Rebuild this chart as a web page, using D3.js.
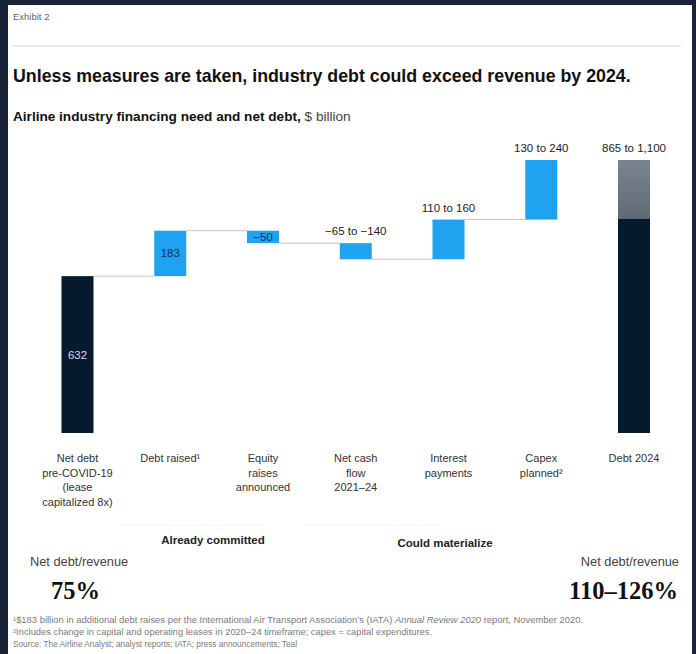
<!DOCTYPE html>
<html>
<head>
<meta charset="utf-8">
<script src="https://cdn.jsdelivr.net/npm/d3@7"></script>
<style>
  html, body { margin: 0; padding: 0; background: #18233a; }
  svg { display: block; }
</style>
</head>
<body>
<svg id="chart" width="696" height="654"></svg>
<script>
// Waterfall of airline net debt, $ billion
const categories = ["Net debt pre-COVID-19", "Debt raised", "Equity raises announced",
  "Net cash flow 2021-24", "Interest payments", "Capex planned", "Debt 2024"];
const categoryLines = [
  ["Net debt", "pre-COVID-19", "(lease", "capitalized 8x)"],
  ["Debt raised¹"],
  ["Equity", "raises", "announced"],
  ["Net cash", "flow", "2021–24"],
  ["Interest", "payments"],
  ["Capex", "planned²"],
  ["Debt 2024"]
];
const barKinds = ["total", "delta", "delta", "delta", "delta", "delta", "total"];
// low and high end of each estimate
const lowValues = [632, 183, -50, -140, 110, 130, 865];
const highValues = [632, 183, -50, -65, 160, 240, 1100];
const valueLabels = ["632", "183", "−50", "−65 to −140", "110 to 160", "130 to 240", "865 to 1,100"];
const yDomain = [0, 1100];

const svg = d3.select("#chart");

// white card
svg.append("rect").attr("x", 8).attr("y", 5).attr("width", 684).attr("height", 650).attr("fill", "#ffffff");

const sans = "'Liberation Sans', Arial, sans-serif";

svg.append("text").attr("x", 13).attr("y", 20).attr("font-family", sans)
  .attr("font-size", 9.5).attr("fill", "#666").text("Exhibit 2");
svg.append("line").attr("x1", 12).attr("x2", 681).attr("y1", 46).attr("y2", 46)
  .attr("stroke", "#dcdcdc").attr("stroke-width", 1.2);

svg.append("text").attr("x", 13).attr("y", 82).attr("font-family", sans)
  .attr("font-size", 17.8).attr("font-weight", 700).attr("fill", "#111")
  .text("Unless measures are taken, industry debt could exceed revenue by 2024.");

const sub = svg.append("text").attr("x", 13).attr("y", 121).attr("font-family", sans)
  .attr("font-size", 13.6).attr("fill", "#111");
sub.append("tspan").attr("font-weight", 700).text("Airline industry financing need and net debt, ");
sub.append("tspan").attr("fill", "#444").text("$ billion");

// scales
const x = d3.scalePoint().domain(categories).range([77.5, 634]);
const y = d3.scaleLinear().domain(yDomain).range([433, 160]);
const barW = 32;

// waterfall running levels (high-debt path)
let level = 0;
const bars = categories.map((c, i) => {
  let from, to;
  if (barKinds[i] === "total") { from = 0; to = highValues[i]; level = to; }
  else { from = level; to = level + highValues[i]; level = to; }
  return { cat: c, i, from, to, low: lowValues[i], high: highValues[i] };
});

// connector lines between consecutive bars
const conn = svg.append("g").attr("stroke", "#c4c4c4").attr("stroke-width", 1);
bars.slice(0, -2).forEach((b, k) => {
  const next = bars[k + 1];
  conn.append("line")
    .attr("x1", x(b.cat) + barW / 2).attr("x2", x(next.cat) - barW / 2)
    .attr("y1", y(b.to)).attr("y2", y(b.to));
});

const navy = "#061a2e", blue = "#1fa3f0";
const defs = svg.append("defs");
const grad = defs.append("linearGradient").attr("id", "rangeFill")
  .attr("x1", 0).attr("x2", 0).attr("y1", 0).attr("y2", 1);
grad.append("stop").attr("offset", "0%").attr("stop-color", "#7b858f");
grad.append("stop").attr("offset", "100%").attr("stop-color", "#5f6a75");

const g = svg.append("g");
bars.forEach(b => {
  const x0 = x(b.cat) - barW / 2;
  if (barKinds[b.i] === "total" && b.i === bars.length - 1) {
    g.append("rect").attr("x", x0).attr("width", barW)
      .attr("y", y(b.low)).attr("height", y(0) - y(b.low)).attr("fill", navy);
    g.append("rect").attr("x", x0).attr("width", barW)
      .attr("y", y(b.high)).attr("height", y(b.low) - y(b.high)).attr("fill", "url(#rangeFill)");
  } else {
    const top = Math.max(b.from, b.to), bot = Math.min(b.from, b.to);
    g.append("rect").attr("x", x0).attr("width", barW)
      .attr("y", y(top)).attr("height", y(bot) - y(top))
      .attr("fill", barKinds[b.i] === "total" ? navy : blue);
  }
});

// value labels
bars.forEach(b => {
  const top = Math.max(b.from, b.to), bot = Math.min(b.from, b.to);
  const t = svg.append("text").attr("x", x(b.cat)).attr("text-anchor", "middle")
    .attr("font-family", sans).attr("font-size", 11.5).text(valueLabels[b.i]);
  if (b.i === 0) t.attr("y", (y(top) + y(bot)) / 2 + 4).attr("fill", "#d6dde6");
  else if (b.i <= 2) t.attr("y", (y(top) + y(bot)) / 2 + 4).attr("fill", "#0d3556");
  else t.attr("y", y(top) - 8).attr("fill", "#222");
});

// category labels
categories.forEach((c, i) => {
  const t = svg.append("text").attr("x", x(c)).attr("y", 462).attr("text-anchor", "middle")
    .attr("font-family", sans).attr("font-size", 11).attr("fill", "#333");
  categoryLines[i].forEach((ln, k) => {
    t.append("tspan").attr("x", x(c)).attr("dy", k === 0 ? 0 : 14.6).text(ln);
  });
});

// group brackets
const grp = svg.append("g").attr("stroke", "#efefef").attr("stroke-width", 1);
grp.append("line").attr("x1", 123).attr("x2", 262).attr("y1", 525).attr("y2", 525);
grp.append("line").attr("x1", 307).attr("x2", 437).attr("y1", 525).attr("y2", 525);
svg.append("text").attr("x", 213).attr("y", 544).attr("text-anchor", "middle")
  .attr("font-family", sans).attr("font-size", 11.5).attr("font-weight", 700).attr("fill", "#222")
  .text("Already committed");
svg.append("text").attr("x", 445).attr("y", 547).attr("text-anchor", "middle")
  .attr("font-family", sans).attr("font-size", 11.5).attr("font-weight", 700).attr("fill", "#222")
  .text("Could materialize");

// ratios
const serif = "'Liberation Serif', 'DejaVu Serif', serif";
svg.append("text").attr("x", 30).attr("y", 566)
  .attr("font-family", sans).attr("font-size", 12.8).attr("fill", "#444").text("Net debt/revenue");
svg.append("text").attr("x", 51).attr("y", 599)
  .attr("font-family", serif).attr("font-size", 24.5).attr("font-weight", 700).attr("fill", "#111")
  .text("75%");
svg.append("text").attr("x", 679).attr("y", 566).attr("text-anchor", "end")
  .attr("font-family", sans).attr("font-size", 12.8).attr("fill", "#444").text("Net debt/revenue");
svg.append("text").attr("x", 678).attr("y", 599).attr("text-anchor", "end")
  .attr("font-family", serif).attr("font-size", 24.5).attr("font-weight", 700).attr("fill", "#111")
  .text("110–126%");

// footnotes
const fn = svg.append("g").attr("font-family", sans).attr("font-size", 8.4).attr("fill", "#7a7a7a");
const f1 = fn.append("text").attr("x", 13).attr("y", 623)
  .attr("textLength", 570).attr("lengthAdjust", "spacingAndGlyphs");
f1.append("tspan").text("¹$183 billion in additional debt raises per the International Air Transport Association’s (IATA) ");
f1.append("tspan").attr("font-style", "italic").text("Annual Review 2020");
f1.append("tspan").text(" report, November 2020.");
fn.append("text").attr("x", 13).attr("y", 635)
  .attr("textLength", 419).attr("lengthAdjust", "spacingAndGlyphs")
  .text("²Includes change in capital and operating leases in 2020–24 timeframe; capex = capital expenditures.");
fn.append("text").attr("x", 13).attr("y", 647)
  .attr("textLength", 284).attr("lengthAdjust", "spacingAndGlyphs")
  .text("Source: The Airline Analyst; analyst reports; IATA; press announcements; Teal");
</script>
</body>
</html>
